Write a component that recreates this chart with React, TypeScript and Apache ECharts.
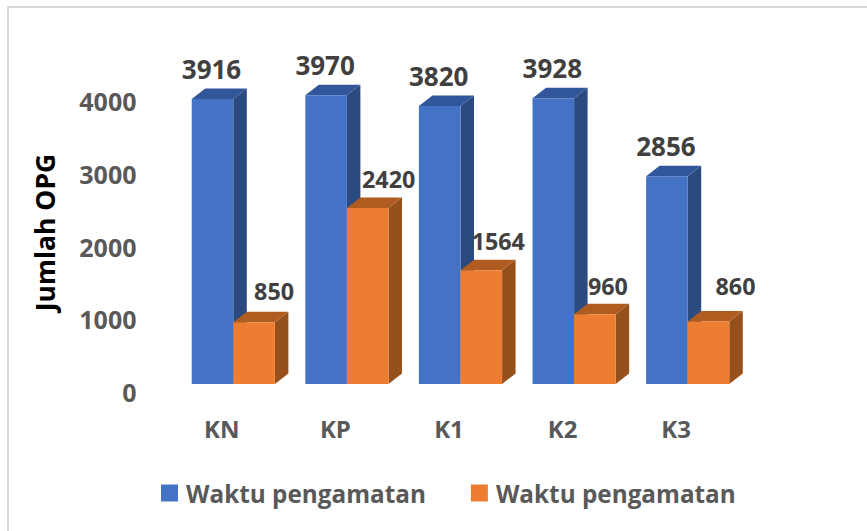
import React, { useEffect, useRef } from "react";
import * as echarts from "echarts";

const categories = ["KN", "KP", "K1", "K2", "K3"];
const firstValues = [3916, 3970, 3820, 3928, 2856];
const secondValues = [850, 2420, 1564, 960, 860];
const legendLabel = "Waktu pengamatan";
const yTicks = { min: 0, max: 4000, interval: 1000 };

const FONT = '"Open Sans", sans-serif';
const DEPTH_X = 13.5;
const DEPTH_Y = 10.5;
const BAR_FRACTION = 0.366;

const blue = { front: "#4472c4", side: "#2a4a80", top: "#32569a" };
const orange = { front: "#ed7d31", side: "#95501c", top: "#b05c21" };

// Nudges of the data labels (dx, dy from the centre of the bar's top edge)
const firstLabelNudge = [[-1, -30], [-1, -30], [-1, -30], [-1, -30], [-1, -30]];
const secondLabelNudge = [[20, -31], [21, -29], [17, -29], [13, -28], [27, -35]];

function makeRender(faces: any, offsetIndex: number, nudge: number[][], fontSize: number) {
  return (params: any, api: any) => {
    const idx = api.value(0);
    const val = api.value(1);
    const top = api.coord([idx, val]);
    const base = api.coord([idx, 0]);
    const w = api.size([1, 0])[0] * BAR_FRACTION;
    const x0 = top[0] - w + offsetIndex * w;
    const x1 = x0 + w;
    const y0 = top[1];
    const y1 = base[1];
    const [dx, dy] = nudge[params.dataIndex];
    return {
      type: "group",
      children: [
        {
          type: "polygon",
          shape: { points: [[x1, y1], [x1 + DEPTH_X, y1 - DEPTH_Y], [x1 + DEPTH_X, y0 - DEPTH_Y], [x1, y0]] },
          style: { fill: faces.side },
        },
        {
          type: "polygon",
          shape: { points: [[x0, y0], [x0 + DEPTH_X, y0 - DEPTH_Y], [x1 + DEPTH_X, y0 - DEPTH_Y], [x1, y0]] },
          style: { fill: faces.top },
        },
        { type: "rect", shape: { x: x0, y: y0, width: w, height: y1 - y0 }, style: { fill: faces.front } },
        {
          type: "text",
          style: {
            x: (x0 + x1) / 2 + dx,
            y: y0 + dy,
            text: String(val),
            fill: "#404040",
            fontFamily: FONT,
            fontWeight: "bold",
            fontSize,
            align: "center",
            verticalAlign: "middle",
          },
        },
      ],
    };
  };
}

export default function App() {
  const ref = useRef<HTMLDivElement>(null);
  useEffect(() => {
    const chart = echarts.init(ref.current!, undefined, { renderer: "svg" });
    chart.setOption({
      animation: false,
      backgroundColor: "#ffffff",
      grid: { left: 176.5, right: 122.5, top: 93, bottom: 147 },
      xAxis: {
        type: "category",
        data: categories,
        axisLine: { show: false },
        axisTick: { show: false },
        axisLabel: {
          color: "#595959",
          fontFamily: FONT,
          fontWeight: "bold",
          fontSize: 24,
          margin: 32,
          padding: [0, 23, 0, 0],
        },
      },
      yAxis: {
        type: "value",
        ...yTicks,
        name: "Jumlah OPG",
        nameLocation: "middle",
        nameRotate: 90,
        nameGap: 118,
        nameTextStyle: {
          color: "#000000",
          fontFamily: FONT,
          fontWeight: "bold",
          fontSize: 26.5,
          padding: [0, 0, 0, 12],
        },
        axisLine: { show: false },
        axisTick: { show: false },
        splitLine: { show: false },
        axisLabel: {
          color: "#595959",
          fontFamily: FONT,
          fontWeight: "bold",
          fontSize: 25,
          margin: 40,
          verticalAlign: "top",
          lineHeight: 16,
          formatter: (v: number) => String(v),
        },
      },
      legend: {
        left: 161,
        top: 481,
        itemWidth: 17,
        itemHeight: 17,
        itemGap: 45,
        icon: "rect",
        padding: 0,
        formatter: () => legendLabel,
        textStyle: {
          color: "#595959",
          fontFamily: FONT,
          fontWeight: "bold",
          fontSize: 24.3,
          padding: [0, 0, 0, 3],
        },
      },
      series: [
        {
          type: "custom",
          name: legendLabel + " 1",
          itemStyle: { color: blue.front },
          encode: { x: 0, y: 1 },
          clip: false,
          data: firstValues.map((v, i) => [i, v]),
          renderItem: makeRender(blue, 0, firstLabelNudge, 26),
        },
        {
          type: "custom",
          name: legendLabel + " 2",
          itemStyle: { color: orange.front },
          encode: { x: 0, y: 1 },
          clip: false,
          data: secondValues.map((v, i) => [i, v]),
          renderItem: makeRender(orange, 1, secondLabelNudge, 23.3),
        },
      ],
      graphic: [
        {
          type: "polyline",
          silent: true,
          shape: { points: [[8, 531], [8, 7], [867, 7]] },
          style: { stroke: "#d9d9d9", lineWidth: 2, fill: "none" },
        },
      ],
    });
    return () => chart.dispose();
  }, []);
  return (
    <div
      ref={ref}
      style={{ position: "fixed", left: 0, top: 0, width: 867, height: 531, background: "#fff" }}
    />
  );
}
